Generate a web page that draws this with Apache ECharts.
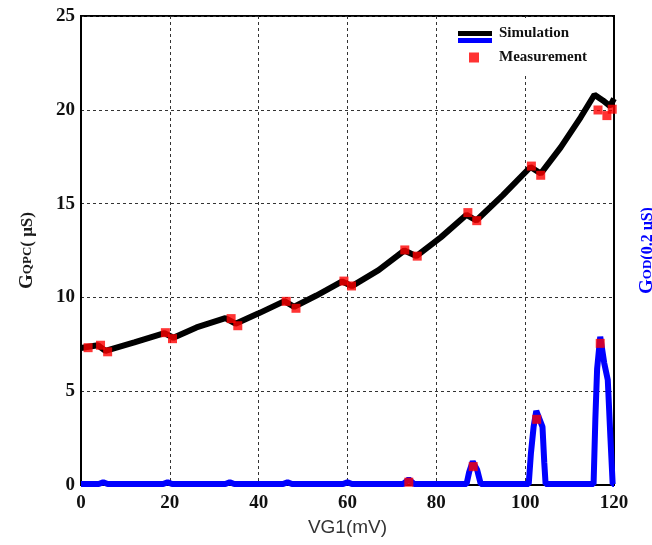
<!DOCTYPE html>
<html>
<head>
<meta charset="utf-8">
<script src="https://cdn.jsdelivr.net/npm/echarts@6/dist/echarts.min.js"></script>
<style>
  html, body { margin: 0; padding: 0; background: #fff; }
  #chart { width: 652px; height: 545px; }
</style>
</head>
<body>
<div id="chart"></div>
<script>
// QPC conductance, simulated (black curve)
const vg1Sim  = [0, 3.8, 5.5, 12, 18.8, 20.8, 26, 32.5, 34.8, 40, 45.8, 48, 53, 58.8, 61, 67, 72.8, 75.5, 81, 86.8, 89, 95, 101.2, 103.5, 108, 112.5, 115.6, 117.5, 119.1, 120];
const gqpcSim = [7.3, 7.45, 7.15, 7.6, 8.1, 7.85, 8.4, 8.9, 8.6, 9.15, 9.8, 9.5, 10.1, 10.85, 10.6, 11.45, 12.5, 12.2, 13.2, 14.4, 14.1, 15.45, 16.95, 16.6, 18.0, 19.6, 20.8, 20.5, 20.2, 20.6];

// Quantum-dot conductance, simulated (blue curve, 0.2 uS units)
const vg1OdSim = [0, 4, 5, 6, 18.5, 19.5, 20.5, 32.5, 33.5, 34.5, 45.5, 46.5, 47.5, 59, 60, 61, 72.5, 73.8, 75, 86.8, 87.4, 88.2, 89.2, 90, 100.8, 101.3, 101.9, 102.5, 103.9, 104.3, 104.6, 115.4, 115.8, 116.2, 116.9, 117.8, 118.6, 119.2, 119.7, 120];
const godSim   = [0.05, 0.05, 0.15, 0.05, 0.05, 0.15, 0.05, 0.05, 0.15, 0.05, 0.05, 0.15, 0.05, 0.05, 0.15, 0.05, 0.05, 0.3, 0.05, 0.05, 0.7, 1.25, 0.8, 0.05, 0.05, 1.7, 3.1, 3.95, 3.1, 1.2, 0.05, 0.05, 3.5, 6.2, 7.9, 6.5, 5.6, 2.5, 0.05, 0.05];

// Measured points
const vg1Meas  = [1.6, 4.4, 6.0, 19.0, 20.6, 33.8, 35.3, 46.2, 48.4, 59.2, 60.9, 72.9, 75.7, 87.1, 89.1, 101.4, 103.5, 116.4, 118.4, 119.6];
const gqpcMeas = [7.32, 7.45, 7.1, 8.12, 7.8, 8.87, 8.49, 9.79, 9.42, 10.87, 10.61, 12.53, 12.2, 14.52, 14.09, 17.0, 16.51, 19.99, 19.69, 20.03];
const vg1OdMeas = [73.8, 88.3, 102.6, 116.9];
const godMeas   = [0.15, 0.98, 3.5, 7.55];

const pairs = (xs, ys) => xs.map((x, i) => [x, ys[i]]);

const serif = 'Liberation Serif';
const tickStyle = { fontFamily: serif, fontWeight: 'bold', fontSize: 19, color: '#111' };
const gridDash = { type: [3, 3], color: '#333', width: 1 };
const legendText = { fontFamily: serif, fontWeight: 'bold', fontSize: 15, color: '#111' };

const chart = echarts.init(document.getElementById('chart'), null, { renderer: 'canvas' });
chart.setOption({
  animation: false,
  backgroundColor: '#fff',
  grid: {
    left: 81, right: 38, top: 16, bottom: 60,
    outerBoundsMode: 'none', containLabel: false,
    show: true, borderColor: '#000', borderWidth: 2
  },
  xAxis: {
    type: 'value', min: 0, max: 120, interval: 20,
    name: 'VG1(mV)', nameLocation: 'middle', nameGap: 33,
    nameTextStyle: { fontFamily: 'Liberation Sans', fontSize: 19, color: '#333' },
    axisLine: { lineStyle: { color: '#000', width: 2 } },
    axisTick: { show: false },
    axisLabel: Object.assign({ margin: 9 }, tickStyle),
    splitLine: { show: true, lineStyle: gridDash }
  },
  yAxis: [
    {
      type: 'value', min: 0, max: 25, interval: 5, position: 'left',
      name: '{g|G}{s|QPC}{t|( μS)}', nameLocation: 'middle', nameGap: 44, nameRotate: 90,
      nameTextStyle: {
        color: '#1a1a1a',
        rich: {
          g: { fontFamily: serif, fontWeight: 'bold', fontSize: 19, color: '#1a1a1a' },
          s: { fontFamily: serif, fontWeight: 'bold', fontSize: 13, color: '#1a1a1a' },
          t: { fontFamily: serif, fontWeight: 'bold', fontSize: 17, color: '#1a1a1a' }
        }
      },
      axisLine: { show: true, lineStyle: { color: '#000', width: 2 } },
      axisTick: { show: false },
      axisLabel: Object.assign({ margin: 6 }, tickStyle),
      splitLine: { show: true, lineStyle: gridDash }
    },
    {
      type: 'value', min: 0, max: 25, interval: 5, position: 'right',
      name: '{g|G}{s|OD}{t|(0.2 μS)}', nameLocation: 'middle', nameGap: 24, nameRotate: 90,
      nameTextStyle: {
        color: '#0000ff',
        rich: {
          g: { fontFamily: serif, fontWeight: 'bold', fontSize: 19, color: '#0000ff' },
          s: { fontFamily: serif, fontWeight: 'bold', fontSize: 13, color: '#0000ff' },
          t: { fontFamily: serif, fontWeight: 'bold', fontSize: 16, color: '#0000ff' }
        }
      },
      axisLine: { show: true, lineStyle: { color: '#000', width: 2 } },
      axisTick: { show: false },
      axisLabel: { show: false },
      splitLine: { show: false }
    }
  ],
  legend: [
    {
      data: ['Simulation'], left: 445, top: 18, padding: [8, 36, 34, 13],
      backgroundColor: '#fff', icon: 'rect', itemWidth: 34, itemHeight: 5,
      textStyle: Object.assign({ padding: [0, 0, 0, 2] }, legendText), z: 3, selectedMode: false
    },
    {
      data: ['GOD simulation'], left: 458, top: 38, padding: 0,
      icon: 'rect', itemWidth: 34, itemHeight: 5,
      formatter: () => '', textStyle: { fontSize: 5 }, z: 5, selectedMode: false
    },
    {
      data: ['Measurement'], left: 469, top: 50, padding: 0,
      icon: 'rect', itemWidth: 10, itemHeight: 10,
      textStyle: Object.assign({ padding: [0, 0, 0, 15] }, legendText), z: 5, selectedMode: false
    }
  ],
  series: [
    {
      name: 'GOD simulation', type: 'line', yAxisIndex: 1, showSymbol: false, z: 2,
      data: pairs(vg1OdSim, godSim),
      itemStyle: { color: '#0000ff' },
      lineStyle: { color: '#0000ff', width: 6 }
    },
    {
      name: 'Simulation', type: 'line', yAxisIndex: 0, showSymbol: false, z: 3,
      data: pairs(vg1Sim, gqpcSim),
      itemStyle: { color: '#000' },
      lineStyle: { color: '#000', width: 6 }
    },
    {
      name: 'Measurement', type: 'scatter', yAxisIndex: 0, symbol: 'rect', symbolSize: 9, z: 4,
      data: pairs(vg1Meas, gqpcMeas),
      itemStyle: { color: '#ff0000' }
    },
    {
      name: 'Measurement', type: 'scatter', yAxisIndex: 1, symbol: 'rect', symbolSize: 9, z: 4,
      data: pairs(vg1OdMeas, godMeas),
      itemStyle: { color: '#ff0000' }
    }
  ]
});
</script>
</body>
</html>
